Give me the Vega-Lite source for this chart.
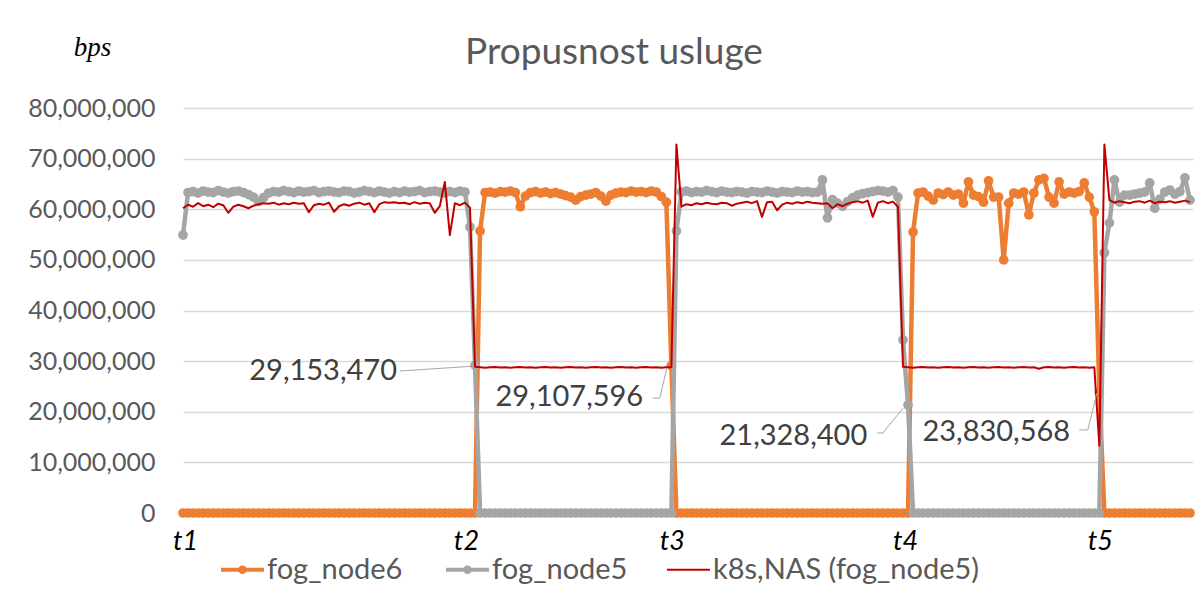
{
"$schema": "https://vega.github.io/schema/vega-lite/v6.json",
"width": 1010,
"height": 405,
"autosize": {"type": "none"},
"padding": {"left": 183, "top": 108, "right": 10, "bottom": 88},
"background": "white",
"config": {"view": {"stroke": null}, "font": "Lato"},
"title": {"text": "Propusnost usluge", "font": "Lato", "fontSize": 37, "fontWeight": "normal", "color": "#595959", "anchor": "middle", "frame": "group", "dx": -74, "dy": 110, "offset": 42, "baseline": "alphabetic"},
"datasets": {
"series": [
{"t":0,"a":0,"b":54900000,"c":60200000},
{"t":1,"a":0,"b":63300000,"c":60900000},
{"t":2,"a":0,"b":63500000,"c":60500000},
{"t":3,"a":0,"b":63200000,"c":61200000},
{"t":4,"a":0,"b":63600000,"c":60600000},
{"t":5,"a":0,"b":63400000,"c":60900000},
{"t":6,"a":0,"b":63300000,"c":60400000},
{"t":7,"a":0,"b":63700000,"c":61100000},
{"t":8,"a":0,"b":63400000,"c":60800000},
{"t":9,"a":0,"b":63200000,"c":59300000},
{"t":10,"a":0,"b":63500000,"c":60500000},
{"t":11,"a":0,"b":63600000,"c":60900000},
{"t":12,"a":0,"b":63300000,"c":60600000},
{"t":13,"a":0,"b":62900000,"c":60200000},
{"t":14,"a":0,"b":62400000,"c":60700000},
{"t":15,"a":0,"b":61500000,"c":61000000},
{"t":16,"a":0,"b":62300000,"c":61200000},
{"t":17,"a":0,"b":63200000,"c":61100000},
{"t":18,"a":0,"b":63500000,"c":61300000},
{"t":19,"a":0,"b":63400000,"c":60900000},
{"t":20,"a":0,"b":63700000,"c":61200000},
{"t":21,"a":0,"b":63500000,"c":61000000},
{"t":22,"a":0,"b":63300000,"c":61300000},
{"t":23,"a":0,"b":63600000,"c":61100000},
{"t":24,"a":0,"b":63400000,"c":61200000},
{"t":25,"a":0,"b":63500000,"c":59400000},
{"t":26,"a":0,"b":63700000,"c":60800000},
{"t":27,"a":0,"b":63300000,"c":61100000},
{"t":28,"a":0,"b":63500000,"c":60900000},
{"t":29,"a":0,"b":63600000,"c":61300000},
{"t":30,"a":0,"b":63400000,"c":59500000},
{"t":31,"a":0,"b":63300000,"c":60600000},
{"t":32,"a":0,"b":63600000,"c":61000000},
{"t":33,"a":0,"b":63500000,"c":60700000},
{"t":34,"a":0,"b":63200000,"c":61100000},
{"t":35,"a":0,"b":63400000,"c":61300000},
{"t":36,"a":0,"b":63700000,"c":60900000},
{"t":37,"a":0,"b":63500000,"c":61200000},
{"t":38,"a":0,"b":63300000,"c":59400000},
{"t":39,"a":0,"b":63600000,"c":61000000},
{"t":40,"a":0,"b":63400000,"c":61400000},
{"t":41,"a":0,"b":63200000,"c":61300000},
{"t":42,"a":0,"b":63500000,"c":61400000},
{"t":43,"a":0,"b":63300000,"c":61200000},
{"t":44,"a":0,"b":63600000,"c":61300000},
{"t":45,"a":0,"b":63400000,"c":61000000},
{"t":46,"a":0,"b":63500000,"c":61400000},
{"t":47,"a":0,"b":63700000,"c":61100000},
{"t":48,"a":0,"b":63300000,"c":61300000},
{"t":49,"a":0,"b":63500000,"c":61200000},
{"t":50,"a":0,"b":63600000,"c":59300000},
{"t":51,"a":0,"b":63400000,"c":60600000},
{"t":52,"a":0,"b":63200000,"c":65400000},
{"t":53,"a":0,"b":63500000,"c":54900000},
{"t":54,"a":0,"b":63300000,"c":61200000},
{"t":55,"a":0,"b":63600000,"c":60800000},
{"t":56,"a":0,"b":63400000,"c":61300000},
{"t":57,"a":0,"b":56500000,"c":60300000},
{"t":58,"a":0,"b":29153470,"c":28900000},
{"t":59,"a":55700000,"b":0,"c":28800000},
{"t":60,"a":63300000,"b":0,"c":28700000},
{"t":61,"a":63400000,"b":0,"c":28800000},
{"t":62,"a":63200000,"b":0,"c":28850000},
{"t":63,"a":63500000,"b":0,"c":28750000},
{"t":64,"a":63400000,"b":0,"c":28800000},
{"t":65,"a":63600000,"b":0,"c":28700000},
{"t":66,"a":63300000,"b":0,"c":28800000},
{"t":67,"a":60500000,"b":0,"c":28850000},
{"t":68,"a":62600000,"b":0,"c":28750000},
{"t":69,"a":63300000,"b":0,"c":28800000},
{"t":70,"a":63500000,"b":0,"c":28700000},
{"t":71,"a":63200000,"b":0,"c":28800000},
{"t":72,"a":63400000,"b":0,"c":28850000},
{"t":73,"a":63100000,"b":0,"c":28750000},
{"t":74,"a":63300000,"b":0,"c":28800000},
{"t":75,"a":63000000,"b":0,"c":28700000},
{"t":76,"a":62700000,"b":0,"c":28800000},
{"t":77,"a":62400000,"b":0,"c":28850000},
{"t":78,"a":61800000,"b":0,"c":28750000},
{"t":79,"a":62500000,"b":0,"c":28800000},
{"t":80,"a":62800000,"b":0,"c":28700000},
{"t":81,"a":63000000,"b":0,"c":28800000},
{"t":82,"a":63300000,"b":0,"c":28850000},
{"t":83,"a":62600000,"b":0,"c":28750000},
{"t":84,"a":61600000,"b":0,"c":28800000},
{"t":85,"a":62800000,"b":0,"c":28700000},
{"t":86,"a":63200000,"b":0,"c":28800000},
{"t":87,"a":63400000,"b":0,"c":28850000},
{"t":88,"a":63300000,"b":0,"c":28750000},
{"t":89,"a":63600000,"b":0,"c":28800000},
{"t":90,"a":63400000,"b":0,"c":28700000},
{"t":91,"a":63500000,"b":0,"c":28800000},
{"t":92,"a":63300000,"b":0,"c":28850000},
{"t":93,"a":63600000,"b":0,"c":28750000},
{"t":94,"a":63400000,"b":0,"c":28800000},
{"t":95,"a":62500000,"b":0,"c":28700000},
{"t":96,"a":61400000,"b":0,"c":28800000},
{"t":97,"a":29107596,"b":0,"c":28800000},
{"t":98,"a":0,"b":55700000,"c":72800000},
{"t":99,"a":0,"b":63400000,"c":60500000},
{"t":100,"a":0,"b":63600000,"c":61000000},
{"t":101,"a":0,"b":63300000,"c":60800000},
{"t":102,"a":0,"b":63500000,"c":61200000},
{"t":103,"a":0,"b":63400000,"c":61000000},
{"t":104,"a":0,"b":63700000,"c":61300000},
{"t":105,"a":0,"b":63500000,"c":61100000},
{"t":106,"a":0,"b":63300000,"c":61000000},
{"t":107,"a":0,"b":63600000,"c":61300000},
{"t":108,"a":0,"b":63400000,"c":61200000},
{"t":109,"a":0,"b":63300000,"c":60700000},
{"t":110,"a":0,"b":63500000,"c":61100000},
{"t":111,"a":0,"b":63400000,"c":61300000},
{"t":112,"a":0,"b":63200000,"c":61500000},
{"t":113,"a":0,"b":63500000,"c":61200000},
{"t":114,"a":0,"b":63400000,"c":61600000},
{"t":115,"a":0,"b":63300000,"c":58500000},
{"t":116,"a":0,"b":63600000,"c":61400000},
{"t":117,"a":0,"b":63400000,"c":61500000},
{"t":118,"a":0,"b":63200000,"c":59800000},
{"t":119,"a":0,"b":63500000,"c":60900000},
{"t":120,"a":0,"b":63400000,"c":61300000},
{"t":121,"a":0,"b":63300000,"c":61100000},
{"t":122,"a":0,"b":63600000,"c":61400000},
{"t":123,"a":0,"b":63400000,"c":61200000},
{"t":124,"a":0,"b":63500000,"c":61500000},
{"t":125,"a":0,"b":63300000,"c":61300000},
{"t":126,"a":0,"b":63400000,"c":61200000},
{"t":127,"a":0,"b":65800000,"c":61100000},
{"t":128,"a":0,"b":58300000,"c":61200000},
{"t":129,"a":0,"b":61900000,"c":60200000},
{"t":130,"a":0,"b":61200000,"c":61000000},
{"t":131,"a":0,"b":60600000,"c":60600000},
{"t":132,"a":0,"b":61500000,"c":61100000},
{"t":133,"a":0,"b":62300000,"c":61400000},
{"t":134,"a":0,"b":62800000,"c":61600000},
{"t":135,"a":0,"b":63100000,"c":61300000},
{"t":136,"a":0,"b":63300000,"c":61700000},
{"t":137,"a":0,"b":63500000,"c":58500000},
{"t":138,"a":0,"b":63700000,"c":61300000},
{"t":139,"a":0,"b":63600000,"c":61600000},
{"t":140,"a":0,"b":63400000,"c":61200000},
{"t":141,"a":0,"b":63700000,"c":61500000},
{"t":142,"a":0,"b":62400000,"c":60500000},
{"t":143,"a":0,"b":34200000,"c":28900000},
{"t":144,"a":0,"b":21328400,"c":28800000},
{"t":145,"a":55500000,"b":0,"c":28700000},
{"t":146,"a":63200000,"b":0,"c":28800000},
{"t":147,"a":63400000,"b":0,"c":28850000},
{"t":148,"a":62600000,"b":0,"c":28750000},
{"t":149,"a":61800000,"b":0,"c":28800000},
{"t":150,"a":63200000,"b":0,"c":28700000},
{"t":151,"a":62900000,"b":0,"c":28800000},
{"t":152,"a":63400000,"b":0,"c":28850000},
{"t":153,"a":62800000,"b":0,"c":28750000},
{"t":154,"a":63000000,"b":0,"c":28800000},
{"t":155,"a":61200000,"b":0,"c":28700000},
{"t":156,"a":65400000,"b":0,"c":28800000},
{"t":157,"a":62800000,"b":0,"c":28850000},
{"t":158,"a":62500000,"b":0,"c":28750000},
{"t":159,"a":61400000,"b":0,"c":28800000},
{"t":160,"a":65600000,"b":0,"c":28700000},
{"t":161,"a":62400000,"b":0,"c":28800000},
{"t":162,"a":62400000,"b":0,"c":28850000},
{"t":163,"a":50000000,"b":0,"c":28750000},
{"t":164,"a":61200000,"b":0,"c":28800000},
{"t":165,"a":63200000,"b":0,"c":28700000},
{"t":166,"a":63000000,"b":0,"c":28800000},
{"t":167,"a":63400000,"b":0,"c":28850000},
{"t":168,"a":58900000,"b":0,"c":28750000},
{"t":169,"a":63200000,"b":0,"c":28800000},
{"t":170,"a":65800000,"b":0,"c":28500000},
{"t":171,"a":66100000,"b":0,"c":28800000},
{"t":172,"a":62400000,"b":0,"c":28850000},
{"t":173,"a":61200000,"b":0,"c":28750000},
{"t":174,"a":65400000,"b":0,"c":28800000},
{"t":175,"a":63000000,"b":0,"c":28700000},
{"t":176,"a":63400000,"b":0,"c":28800000},
{"t":177,"a":63200000,"b":0,"c":28850000},
{"t":178,"a":63500000,"b":0,"c":28750000},
{"t":179,"a":65200000,"b":0,"c":28800000},
{"t":180,"a":62400000,"b":0,"c":28700000},
{"t":181,"a":59500000,"b":0,"c":28800000},
{"t":182,"a":23830568,"b":0,"c":13300000},
{"t":183,"a":0,"b":51400000,"c":72800000},
{"t":184,"a":0,"b":57300000,"c":61800000},
{"t":185,"a":0,"b":65800000,"c":61300000},
{"t":186,"a":0,"b":61400000,"c":61600000},
{"t":187,"a":0,"b":62800000,"c":61400000},
{"t":188,"a":0,"b":62800000,"c":61200000},
{"t":189,"a":0,"b":63000000,"c":61500000},
{"t":190,"a":0,"b":63200000,"c":61600000},
{"t":191,"a":0,"b":63400000,"c":61300000},
{"t":192,"a":0,"b":65200000,"c":61700000},
{"t":193,"a":0,"b":60200000,"c":61200000},
{"t":194,"a":0,"b":62000000,"c":61500000},
{"t":195,"a":0,"b":63400000,"c":61400000},
{"t":196,"a":0,"b":63800000,"c":61600000},
{"t":197,"a":0,"b":63000000,"c":61300000},
{"t":198,"a":0,"b":63500000,"c":61500000},
{"t":199,"a":0,"b":66200000,"c":61700000},
{"t":200,"a":0,"b":61800000,"c":61400000}
],
"labels": [
{"t":42.5,"value":28050000,"label":"29,153,470"},
{"t":91.4,"value":22900000,"label":"29,107,596"},
{"t":135.9,"value":15200000,"label":"21,328,400"},
{"t":176.2,"value":16000000,"label":"23,830,568"}
],
"leaders": [
{"g":1,"o":1,"t":43.1,"value":28050000},
{"g":1,"o":2,"t":57.6,"value":29000000},
{"g":2,"o":1,"t":93.3,"value":22700000},
{"g":2,"o":2,"t":94.7,"value":22700000},
{"g":2,"o":3,"t":96.1,"value":28600000},
{"g":3,"o":1,"t":137.8,"value":15800000},
{"g":3,"o":2,"t":139.0,"value":15800000},
{"g":3,"o":3,"t":143.0,"value":20700000},
{"g":4,"o":1,"t":178.0,"value":16400000},
{"g":4,"o":2,"t":179.7,"value":16400000},
{"g":4,"o":3,"t":181.5,"value":23700000}
]
},
"encoding": {
"x": {"field": "t", "type": "quantitative", "scale": {"domain": [0, 200.6], "nice": false, "zero": false},
  "axis": {"title": null, "values": [0.4, 56.2, 97.1, 143.4, 182.1], "labelExpr": "datum.value < 10 ? 't1' : datum.value < 70 ? 't2' : datum.value < 120 ? 't3' : datum.value < 160 ? 't4' : 't5'", "labelFont": "Lato", "labelFontStyle": "italic", "labelFontSize": 27, "labelColor": "#000000", "labelBaseline": "alphabetic", "labelPadding": 36, "labelOverlap": false, "labelFlush": false, "ticks": false, "domain": false, "grid": false}},
"y": {"field": "value", "type": "quantitative", "scale": {"domain": [0, 80000000], "nice": false},
  "axis": {"title": "bps", "titleAngle": 0, "titleFont": "Liberation Serif", "titleFontStyle": "italic", "titleFontWeight": "normal", "titleFontSize": 27, "titleColor": "#000000", "titleAlign": "center", "titleBaseline": "alphabetic", "titleX": -91, "titleY": -53,
    "values": [0, 10000000, 20000000, 30000000, 40000000, 50000000, 60000000, 70000000, 80000000], "format": ",d", "labelFont": "Lato", "labelFontSize": 25, "labelColor": "#595959", "labelPadding": 28, "ticks": false, "domain": false, "grid": true, "gridColor": "#D9D9D9", "gridWidth": 1.3}},
"color": {"field": "key", "type": "nominal", "scale": {"domain": ["a", "b", "c"], "range": ["#ED7D31", "#A5A5A5", "#C00000"]},
  "legend": {"orient": "none", "legendX": 39, "legendY": 447, "direction": "horizontal", "title": null,
    "labelExpr": "datum.value === 'a' ? 'fog_node6' : datum.value === 'b' ? 'fog_node5' : 'k8s,NAS (fog_node5)'",
    "labelFont": "Lato", "labelFontSize": 29, "labelColor": "#595959", "labelOffset": 10, "labelLimit": 500, "symbolSize": 1849, "symbolOffset": 6, "columnPadding": 35, "symbolStrokeWidth": 4, "symbolType": "M-1,0L1,0",
    "encode": {"symbols": {"update": {
      "shape": {"signal": "datum.value === 'c' ? 'M-1,0L1,0' : 'M-1,0L1,0M0.11,0A0.11,0.11,0,1,1,-0.11,0A0.11,0.11,0,1,1,0.11,0'"},
      "stroke": {"scale": "color", "field": "value"},
      "fill": {"scale": "color", "field": "value"},
      "strokeWidth": {"signal": "datum.value === 'c' ? 2 : 4"},
      "size": {"value": 1849},
      "opacity": {"value": 1}, "fillOpacity": {"value": 1}, "strokeOpacity": {"value": 1}}}}}}
},
"layer": [
{"data": {"name": "series"}, "transform": [{"fold": ["a", "b", "c"], "as": ["key", "value"]}, {"filter": "datum.key === 'a'"}],
 "mark": {"type": "line", "strokeWidth": 4.5, "strokeJoin": "round", "strokeCap": "round"}},
{"data": {"name": "series"}, "transform": [{"fold": ["a", "b", "c"], "as": ["key", "value"]}, {"filter": "datum.key === 'a'"}],
 "mark": {"type": "point", "filled": true, "size": 95, "opacity": 1}},
{"data": {"name": "series"}, "transform": [{"fold": ["a", "b", "c"], "as": ["key", "value"]}, {"filter": "datum.key === 'b'"}],
 "mark": {"type": "line", "strokeWidth": 4.5, "strokeJoin": "round", "strokeCap": "round"}},
{"data": {"name": "series"}, "transform": [{"fold": ["a", "b", "c"], "as": ["key", "value"]}, {"filter": "datum.key === 'b'"}],
 "mark": {"type": "point", "filled": true, "size": 95, "opacity": 1}},
{"data": {"name": "series"}, "transform": [{"fold": ["a", "b", "c"], "as": ["key", "value"]}, {"filter": "datum.key === 'c'"}],
 "mark": {"type": "line", "strokeWidth": 2, "strokeJoin": "round"}},
{"data": {"name": "leaders"}, "mark": {"type": "line", "strokeWidth": 1, "color": "#A6A6A6"},
 "encoding": {"x": {"field": "t", "type": "quantitative"}, "y": {"field": "value", "type": "quantitative"}, "color": {"value": "#A6A6A6"}, "detail": {"field": "g", "type": "nominal"}, "order": {"field": "o", "type": "quantitative"}}},
{"data": {"name": "labels"}, "mark": {"type": "text", "align": "right", "baseline": "middle", "font": "Lato", "fontSize": 29, "color": "#404040"},
 "encoding": {"x": {"field": "t", "type": "quantitative"}, "y": {"field": "value", "type": "quantitative"}, "color": {"value": "#404040"}, "text": {"field": "label", "type": "nominal"}}}
]
}
